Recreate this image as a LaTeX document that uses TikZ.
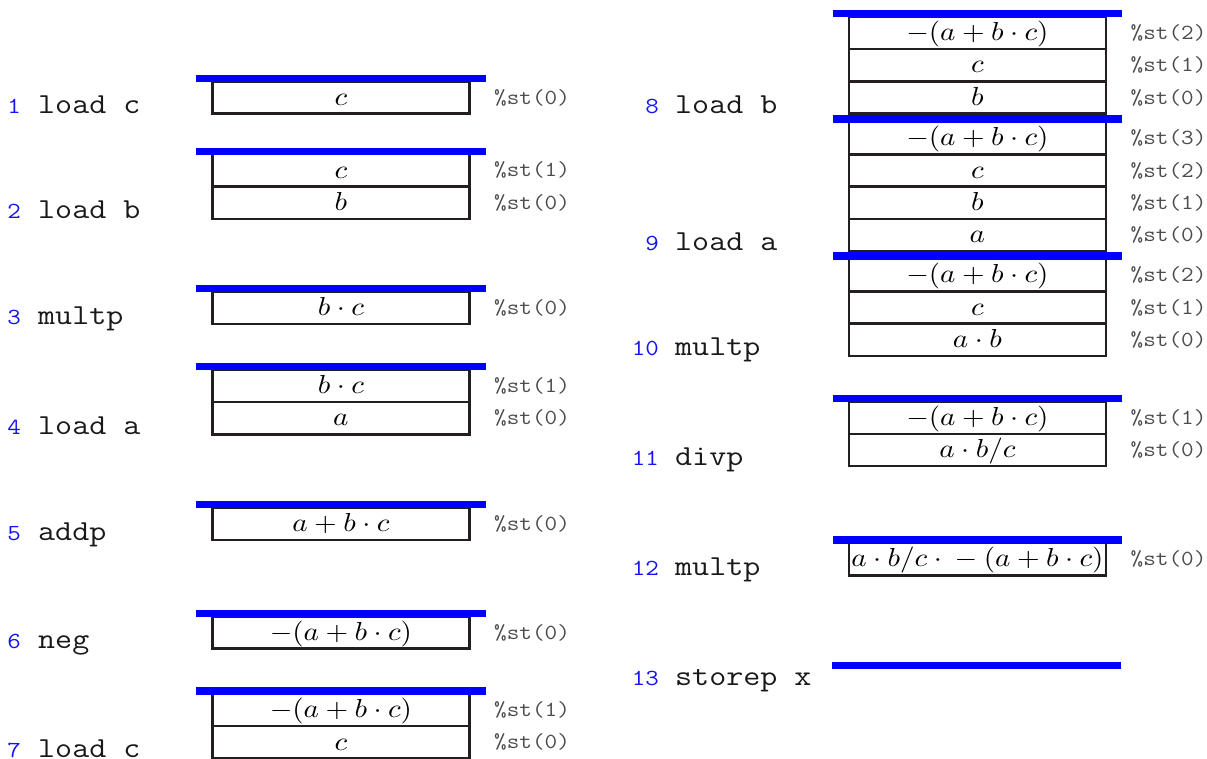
\documentclass[tikz,border=0pt]{standalone}
\usepackage{fontspec}
\usepackage{graphicx}
\definecolor{boxline}{RGB}{35,31,32}
\definecolor{numblue}{RGB}{20,20,240}
\newcommand\mxs{2.92}
\newcommand\mys{2.61}
\newcommand\ttx[1]{\scalebox{1.14}[1]{#1}}
\tikzset{
  cellbox/.style={draw=boxline, line width=2.5bp, minimum width=257.2bp,
    minimum height=32.3bp, inner sep=0pt, outer sep=0pt,
    text height=21bp, text depth=5.6bp},
  topbar/.style={draw=blue, line width=7.3bp},
  lnum/.style={anchor=base east, inner sep=0pt, text=numblue,
    font=\ttfamily\fontsize{23bp}{23bp}\selectfont},
  instr/.style={anchor=base west, inner sep=0pt, text=black!90,
    font=\ttfamily\fontsize{29bp}{29bp}\selectfont},
  reg/.style={anchor=west, inner sep=0pt, text=black!70,
    font=\ttfamily\fontsize{21.5bp}{21.5bp}\selectfont}
}
\newcommand\cellrow[4]{\node[cellbox] (#1) at (#2,#3) {\scalebox{\mxs}[\mys]{$#4$}};}
\newcommand\reglab[2]{\node[reg] (#1l) at ([xshift=24.5bp]#1.east) {\ttx{\%st(#2)}};}
\newcommand\stackbar[2]{\draw[topbar] ([shift={(-16bp,3bp)}]#1.north west) -- ([shift={(16bp,3bp)}]#2.north east);}
\begin{document}
\begin{tikzpicture}[x=1bp,y=-1bp]
\useasboundingbox (0,0) rectangle (1207,759);

% ---------- left column ----------
\cellrow{a1}{340.9}{97.55}{c}
\reglab{a1}{0}
\stackbar{a1}{a1}
\node[lnum] (n1) at (21,113.7) {\ttx{1}};
\node[instr] (t1) at (38,113.7) {\ttx{load c}};

\cellrow{b1}{340.9}{170.35}{c}
\cellrow{b2}{340.9}{202.65}{b}
\reglab{b1}{1}\reglab{b2}{0}
\stackbar{b1}{b1}
\node[lnum] (n2) at (21,218.8) {\ttx{2}};
\node[instr] (t2) at (38,218.8) {\ttx{load b}};

\cellrow{c1}{340.9}{307.85}{b\cdot c}
\reglab{c1}{0}
\stackbar{c1}{c1}
\node[lnum] (n3) at (21,324) {\ttx{3}};
\node[instr] (t3) at (38,324) {\ttx{multp}};

\cellrow{d1}{340.9}{385.85}{b\cdot c}
\cellrow{d2}{340.9}{418.15}{a}
\reglab{d1}{1}\reglab{d2}{0}
\stackbar{d1}{d1}
\node[lnum] (n4) at (21,434.3) {\ttx{4}};
\node[instr] (t4) at (38,434.3) {\ttx{load a}};

\cellrow{e1}{340.9}{523.85}{a+b\cdot c}
\reglab{e1}{0}
\stackbar{e1}{e1}
\node[lnum] (n5) at (21,540) {\ttx{5}};
\node[instr] (t5) at (38,540) {\ttx{addp}};

\cellrow{f1}{340.9}{632.45}{-(a+b\cdot c)}
\reglab{f1}{0}
\stackbar{f1}{f1}
\node[lnum] (n6) at (21,648.6) {\ttx{6}};
\node[instr] (t6) at (38,648.6) {\ttx{neg}};

\cellrow{g1}{340.9}{710.05}{-(a+b\cdot c)}
\cellrow{g2}{340.9}{742.35}{c}
\reglab{g1}{1}\reglab{g2}{0}
\stackbar{g1}{g1}
\node[lnum] (n7) at (21,757.5) {\ttx{7}};
\node[instr] (t7) at (38,757.5) {\ttx{load c}};

% ---------- right column ----------
\cellrow{h1}{977.4}{32.85}{-(a+b\cdot c)}
\cellrow{h2}{977.4}{65.15}{c}
\cellrow{h3}{977.4}{97.45}{b}
\reglab{h1}{2}\reglab{h2}{1}\reglab{h3}{0}
\stackbar{h1}{h1}
\node[lnum] (n8) at (659,114) {\ttx{8}};
\node[instr] (t8) at (675,114) {\ttx{load b}};

\cellrow{i1}{977.4}{138.15}{-(a+b\cdot c)}
\cellrow{i2}{977.4}{170.45}{c}
\cellrow{i3}{977.4}{202.75}{b}
\cellrow{i4}{977.4}{235.05}{a}
\reglab{i1}{3}\reglab{i2}{2}\reglab{i3}{1}\reglab{i4}{0}
\stackbar{i1}{i1}
\node[lnum] (n9) at (659,250.7) {\ttx{9}};
\node[instr] (t9) at (675,250.7) {\ttx{load a}};

\cellrow{j1}{977.4}{275.15}{-(a+b\cdot c)}
\cellrow{j2}{977.4}{307.45}{c}
\cellrow{j3}{977.4}{339.75}{a\cdot b}
\reglab{j1}{2}\reglab{j2}{1}\reglab{j3}{0}
\stackbar{j1}{j1}
\node[lnum] (n10) at (659,355.3) {\ttx{10}};
\node[instr] (t10) at (675,355.3) {\ttx{multp}};

\cellrow{k1}{977.4}{417.65}{-(a+b\cdot c)}
\cellrow{k2}{977.4}{449.95}{a\cdot b/c}
\reglab{k1}{1}\reglab{k2}{0}
\stackbar{k1}{k1}
\node[lnum] (n11) at (659,465.7) {\ttx{11}};
\node[instr] (t11) at (675,465.7) {\ttx{divp}};

\cellrow{l1}{977.4}{559.15}{a\cdot b/c\cdot{}-(a+b\cdot c)}
\reglab{l1}{0}
\stackbar{l1}{l1}
\node[lnum] (n12) at (659,575.7) {\ttx{12}};
\node[instr] (t12) at (675,575.7) {\ttx{multp}};

\coordinate (s13) at (976.5,665.3);
\draw[topbar] ([xshift=-144.5bp]s13) -- ([xshift=144.5bp]s13);
\node[lnum] (n13) at (659,685.7) {\ttx{13}};
\node[instr] (t13) at (675,685.7) {\ttx{storep x}};
\end{tikzpicture}
\end{document}
